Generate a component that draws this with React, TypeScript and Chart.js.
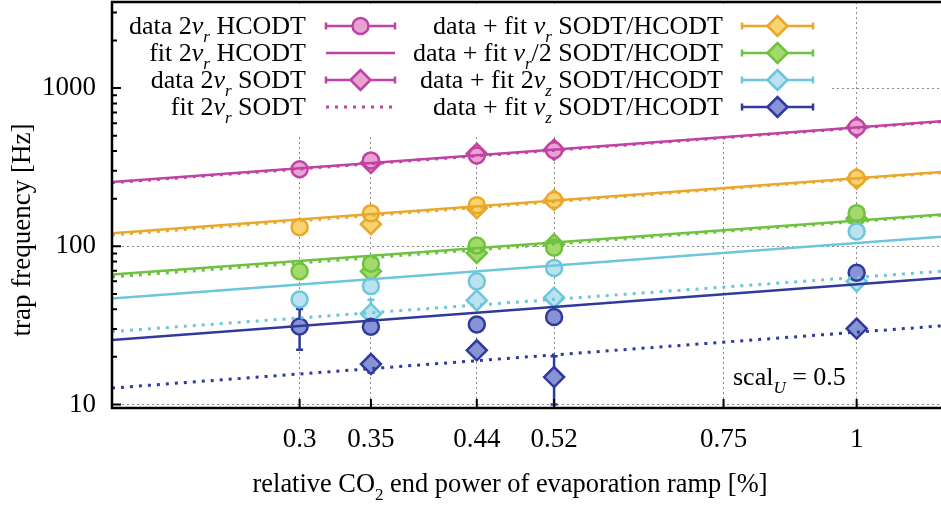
import { useEffect, useRef } from 'react';
import { Chart, registerables } from 'chart.js';
Chart.register(...registerables);

// ---- data ----
const xTicks = [0.3, 0.35, 0.44, 0.52, 0.75, 1];
const yTicks = [10, 100, 1000];
const xHcodt = [0.3, 0.35, 0.44, 0.52, 1];
const xSodt = [0.35, 0.44, 0.52, 1];
const xFit = [0.2, 1.2];

const hcodt2vr = [307, 349, 375, 405, 565];
const sodt2vr = [336, 385, 408, 565];
const hcodtVr = [132, 162, 182, 196, 270];
const sodtVr = [138, 174, 196, 267];
const hcodtVrHalf = [69.5, 77.6, 101, 98, 162];
const sodtVrHalf = [69.5, 90.7, 103, 150];
const hcodt2vz = [46.1, 56, 60, 73, 124];
const sodt2vz = [37.5, 45.5, 47.3, 60];
const hcodtVz = [31.1, 31, 32, 35.7, 68];
const sodtVz = [18, 22, 14.9, 30.2];

const fitHcodt2vr = [255, 617];
const fitSodt2vr = [252, 612];
const fitHcodtVr = [121, 295];
const fitSodtVr = [118, 292];
const fitHcodtVrHalf = [66.3, 159];
const fitSodtVrHalf = [64, 157];
const fitHcodt2vz = [46.8, 115];
const fitSodt2vz = [28.9, 69.5];
const fitHcodtVz = [25.6, 63];
const fitSodtVz = [12.7, 31.4];

// error bars [low, high] aligned with x arrays
const errHcodtVz: (number[] | null)[] = [[22.2, 40.2], null, [29.5, 34.5], [33.5, 38], null];
const errSodt2vz: (number[] | null)[] = [[27.8, 46], null, null, null];
const errSodtVz: (number[] | null)[] = [[15.9, 20], null, [10, 20.2], null];

// ---- styles ----
const MAG = '#c043a3', MAGF = '#e8a3d2';
const ORA = '#e9a82b', ORAF = '#f8d36e';
const GRN = '#6ec23f', GRNF = '#a4d96c';
const LBL = '#6cc6dc', LBLF = '#bce2f0';
const DBL = '#2f3a9c', DBLF = '#8793d5';
const FONT = '"Liberation Serif", "Times New Roman", serif';
const FS = 26;
const TICKFS = 27;

type Seg = { t: string; it?: boolean; sub?: boolean };
const segFont = (s: Seg, size: number) => `${s.it ? 'italic ' : ''}${s.sub ? Math.round(size * 0.64) : size}px ${FONT}`;
function measureRich(ctx: CanvasRenderingContext2D, segs: Seg[], size: number) {
  let w = 0;
  for (const s of segs) { ctx.font = segFont(s, size); w += ctx.measureText(s.t).width; }
  return w;
}
function drawRich(ctx: CanvasRenderingContext2D, segs: Seg[], x: number, y: number, size: number, align: 'left' | 'right' | 'center') {
  const w = measureRich(ctx, segs, size);
  let cx = align === 'right' ? x - w : align === 'center' ? x - w / 2 : x;
  ctx.textAlign = 'left';
  ctx.textBaseline = 'alphabetic';
  for (const s of segs) {
    ctx.font = segFont(s, size);
    ctx.fillText(s.t, cx, s.sub ? y + size * 0.32 : y);
    cx += ctx.measureText(s.t).width;
  }
}

const pts = (xs: number[], ys: number[]) => xs.map((x, i) => ({ x, y: ys[i] }));

function fitDs(ys: number[], color: string, dotted: boolean) {
  return {
    data: pts(xFit, ys), borderColor: color, borderWidth: dotted ? 3 : 2.5,
    borderDash: dotted ? [3, 6] : [], pointRadius: 0, fill: false, tension: 0,
  };
}
function markDs(xs: number[], ys: number[], color: string, fillc: string, style: string) {
  return {
    data: pts(xs, ys), showLine: false, pointStyle: style,
    pointRadius: style === 'circle' ? 8 : 10, pointBorderWidth: 2.5,
    pointBorderColor: color, pointBackgroundColor: fillc, borderColor: color, backgroundColor: fillc,
  };
}

function drawMarker(ctx: CanvasRenderingContext2D, x: number, y: number, style: string, color: string, fillc: string) {
  ctx.save();
  ctx.beginPath();
  if (style === 'circle') ctx.arc(x, y, 8, 0, Math.PI * 2);
  else { ctx.moveTo(x - 10, y); ctx.lineTo(x, y - 10); ctx.lineTo(x + 10, y); ctx.lineTo(x, y + 10); ctx.closePath(); }
  ctx.fillStyle = fillc; ctx.fill();
  ctx.lineWidth = 2.5; ctx.strokeStyle = color; ctx.setLineDash([]); ctx.stroke();
  ctx.restore();
}

type LegendItem = { segs: Seg[]; color: string; fillc?: string; kind: 'data' | 'solid' | 'dotted'; marker?: string };
const legendCol1: LegendItem[] = [
  { segs: [{ t: 'data 2' }, { t: 'ν', it: true }, { t: 'r', it: true, sub: true }, { t: ' HCODT' }], color: MAG, fillc: MAGF, kind: 'data', marker: 'circle' },
  { segs: [{ t: 'fit 2' }, { t: 'ν', it: true }, { t: 'r', it: true, sub: true }, { t: ' HCODT' }], color: MAG, kind: 'solid' },
  { segs: [{ t: 'data 2' }, { t: 'ν', it: true }, { t: 'r', it: true, sub: true }, { t: ' SODT' }], color: MAG, fillc: MAGF, kind: 'data', marker: 'diamond' },
  { segs: [{ t: 'fit 2' }, { t: 'ν', it: true }, { t: 'r', it: true, sub: true }, { t: ' SODT' }], color: MAG, kind: 'dotted' },
];
const legendCol2: LegendItem[] = [
  { segs: [{ t: 'data + fit ' }, { t: 'ν', it: true }, { t: 'r', it: true, sub: true }, { t: ' SODT/HCODT' }], color: ORA, fillc: ORAF, kind: 'data', marker: 'diamond' },
  { segs: [{ t: 'data + fit ' }, { t: 'ν', it: true }, { t: 'r', it: true, sub: true }, { t: '/2 SODT/HCODT' }], color: GRN, fillc: GRNF, kind: 'data', marker: 'diamond' },
  { segs: [{ t: 'data + fit 2' }, { t: 'ν', it: true }, { t: 'z', it: true, sub: true }, { t: ' SODT/HCODT' }], color: LBL, fillc: LBLF, kind: 'data', marker: 'diamond' },
  { segs: [{ t: 'data + fit ' }, { t: 'ν', it: true }, { t: 'z', it: true, sub: true }, { t: ' SODT/HCODT' }], color: DBL, fillc: DBLF, kind: 'data', marker: 'diamond' },
];

const decor = {
  id: 'decor',
  beforeDatasetsDraw(chart: any) {
    const ctx: CanvasRenderingContext2D = chart.ctx;
    const { left, top, right, bottom } = chart.chartArea;
    const xs = chart.scales.x, ys = chart.scales.y;
    // opaque key box
    ctx.save();
    ctx.fillStyle = '#ffffff';
    ctx.fillRect(left + 2, top + 4, 830 - left, 129);
    ctx.restore();
    // error bars
    ctx.save();
    ctx.beginPath(); ctx.rect(left, top, right - left, bottom - top); ctx.clip();
    const bars: [number[], (number[] | null)[], string][] = [
      [xHcodt, errHcodtVz, DBL], [xSodt, errSodt2vz, LBL], [xSodt, errSodtVz, DBL],
    ];
    for (const [xarr, earr, col] of bars) {
      earr.forEach((e, i) => {
        if (!e) return;
        const px = xs.getPixelForValue(xarr[i]);
        const p1 = ys.getPixelForValue(e[0]), p2 = ys.getPixelForValue(e[1]);
        ctx.strokeStyle = col; ctx.lineWidth = 2.5;
        ctx.beginPath();
        ctx.moveTo(px, p1); ctx.lineTo(px, p2);
        ctx.moveTo(px - 3.5, p1); ctx.lineTo(px + 3.5, p1);
        ctx.moveTo(px - 3.5, p2); ctx.lineTo(px + 3.5, p2);
        ctx.stroke();
      });
    }
    ctx.restore();
  },
  afterDraw(chart: any) {
    const ctx: CanvasRenderingContext2D = chart.ctx;
    const { left, top, right, bottom } = chart.chartArea;
    const xs = chart.scales.x, ys = chart.scales.y;
    ctx.save();
    // border
    ctx.strokeStyle = '#000'; ctx.lineWidth = 2.5; ctx.setLineDash([]);
    ctx.strokeRect(left, top, right - left + 3, bottom - top);
    // inward ticks
    ctx.lineWidth = 2;
    ctx.beginPath();
    for (let d = 0; d <= 3; d++) {
      for (let m = 1; m <= 9; m++) {
        const v = m * Math.pow(10, d);
        if (v < ys.min || v > ys.max) continue;
        const py = ys.getPixelForValue(v);
        const len = m === 1 ? 9 : 5;
        ctx.moveTo(left, py); ctx.lineTo(left + len, py);
      }
    }
    for (const v of xTicks) {
      const px = xs.getPixelForValue(v);
      ctx.moveTo(px, bottom); ctx.lineTo(px, bottom - 9);
    }
    ctx.stroke();
    // legend
    ctx.fillStyle = '#000';
    const rows = [26, 53, 80, 107];
    const cols = [
      { items: legendCol1, textR: 306, s0: 326, s1: 395, mx: 360.5 },
      { items: legendCol2, textR: 723, s0: 742, s1: 813, mx: 777.5 },
    ];
    for (const c of cols) {
      c.items.forEach((it, i) => {
        const ry = rows[i];
        ctx.fillStyle = '#000';
        drawRich(ctx, it.segs, c.textR, ry + 8, FS, 'right');
        ctx.strokeStyle = it.color;
        if (it.kind === 'dotted') { ctx.lineWidth = 3; ctx.setLineDash([3, 6]); }
        else { ctx.lineWidth = 2.5; ctx.setLineDash([]); }
        ctx.beginPath(); ctx.moveTo(c.s0, ry); ctx.lineTo(c.s1, ry); ctx.stroke();
        ctx.setLineDash([]);
        if (it.kind === 'data') {
          ctx.beginPath();
          ctx.moveTo(c.s0, ry - 3.5); ctx.lineTo(c.s0, ry + 3.5);
          ctx.moveTo(c.s1, ry - 3.5); ctx.lineTo(c.s1, ry + 3.5);
          ctx.stroke();
          drawMarker(ctx, c.mx, ry, it.marker!, it.color, it.fillc!);
        }
      });
    }
    // annotation
    ctx.fillStyle = '#000';
    drawRich(ctx, [{ t: 'scal' }, { t: 'U', it: true, sub: true }, { t: ' = 0.5' }], 733, 385, FS, 'left');
    // axis titles
    drawRich(ctx, [{ t: 'relative CO' }, { t: '2', sub: true }, { t: ' end power of evaporation ramp [%]' }], 510, 492, 26.4, 'center');
    ctx.save();
    ctx.translate(30, 230);
    ctx.rotate(-Math.PI / 2);
    drawRich(ctx, [{ t: 'trap frequency [Hz]' }], 0, 0, 27, 'center');
    ctx.restore();
    ctx.restore();
  },
};

export default function App() {
  const ref = useRef<HTMLCanvasElement>(null);
  useEffect(() => {
    document.body.style.margin = '0';
    const chart = new Chart(ref.current!, {
      type: 'line',
      data: {
        datasets: [
          fitDs(fitHcodtVz, DBL, false), fitDs(fitSodtVz, DBL, true),
          fitDs(fitHcodt2vz, LBL, false), fitDs(fitSodt2vz, LBL, true),
          fitDs(fitHcodtVrHalf, GRN, false), fitDs(fitSodtVrHalf, GRN, true),
          fitDs(fitHcodtVr, ORA, false), fitDs(fitSodtVr, ORA, true),
          fitDs(fitHcodt2vr, MAG, false), fitDs(fitSodt2vr, MAG, true),
          markDs(xHcodt, hcodtVz, DBL, DBLF, 'circle'), markDs(xSodt, sodtVz, DBL, DBLF, 'rectRot'),
          markDs(xHcodt, hcodt2vz, LBL, LBLF, 'circle'), markDs(xSodt, sodt2vz, LBL, LBLF, 'rectRot'),
          markDs(xHcodt, hcodtVrHalf, GRN, GRNF, 'circle'), markDs(xSodt, sodtVrHalf, GRN, GRNF, 'rectRot'),
          markDs(xHcodt, hcodtVr, ORA, ORAF, 'circle'), markDs(xSodt, sodtVr, ORA, ORAF, 'rectRot'),
          markDs(xHcodt, hcodt2vr, MAG, MAGF, 'circle'), markDs(xSodt, sodt2vr, MAG, MAGF, 'rectRot'),
        ] as any,
      },
      options: {
        animation: false,
        responsive: false,
        maintainAspectRatio: false,
        layout: { autoPadding: false, padding: { top: 2, right: 0, left: 0, bottom: 0 } },
        plugins: { legend: { display: false }, tooltip: { enabled: false } },
        scales: {
          x: {
            type: 'logarithmic', min: 0.2, max: 1.2,
            afterBuildTicks: (s: any) => { s.ticks = xTicks.map((v) => ({ value: v })); },
            afterFit: (s: any) => { s.height = 97; s.paddingLeft = 0; s.paddingRight = 0; s.paddingTop = 0; s.paddingBottom = 0; },
            grid: { color: '#8a8a8a', lineWidth: 1, drawTicks: false },
            border: { display: false, dash: [2, 3] },
            ticks: { font: { family: FONT, size: TICKFS }, color: '#000', padding: 16, maxRotation: 0, autoSkip: false, callback: (v: any) => String(v) },
          },
          y: {
            type: 'logarithmic', min: 9.5, max: 3500,
            afterBuildTicks: (s: any) => { s.ticks = yTicks.map((v) => ({ value: v })); },
            afterFit: (s: any) => { s.width = 112; s.paddingLeft = 0; s.paddingRight = 0; s.paddingTop = 0; s.paddingBottom = 0; },
            grid: { color: '#8a8a8a', lineWidth: 1, drawTicks: false },
            border: { display: false, dash: [2, 3] },
            ticks: { font: { family: FONT, size: TICKFS }, color: '#000', padding: 16, autoSkip: false, callback: (v: any) => String(v) },
          },
        },
      } as any,
      plugins: [decor],
    });
    return () => chart.destroy();
  }, []);
  return <canvas ref={ref} width={941} height={505} style={{ display: 'block' }} />;
}
